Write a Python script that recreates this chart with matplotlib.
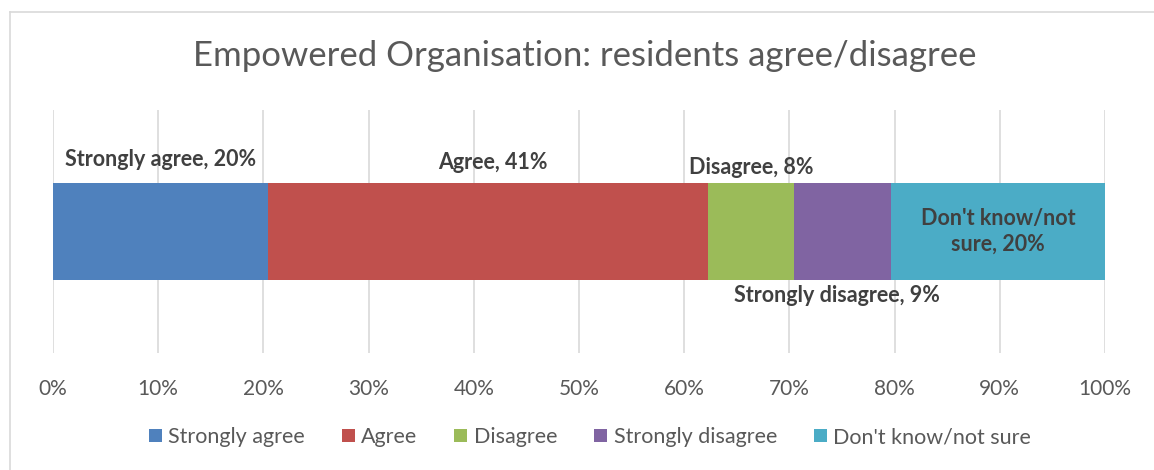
import matplotlib
matplotlib.use("Agg")
import matplotlib.pyplot as plt
from matplotlib.lines import Line2D
import math

plt.rcParams['font.family'] = ['Lato', 'DejaVu Sans']

# Survey responses (percent of residents)
categories = ["Strongly agree", "Agree", "Disagree", "Strongly disagree", "Don't know/not sure"]
values = [20.4, 41.9, 8.1, 9.3, 20.3]
colors = ["#4F81BD", "#C0504D", "#9BBB59", "#8064A2", "#4BACC6"]
tick_values = list(range(0, 101, 10))
tick_labels = [f"{t}%" for t in tick_values]
title = "Empowered Organisation: residents agree/disagree"

W, H = 1154, 470
fig = plt.figure(figsize=(W / 100, H / 100), dpi=100)
fig.patch.set_facecolor("white")

# axes placement in pixels
left, right, top, bottom = 53, 1105, 110, 353
ax = fig.add_axes([left / W, 1 - bottom / H, (right - left) / W, (bottom - top) / H])

bar_h = 0.403
starts = []
acc = 0.0
for v in values:
    starts.append(acc)
    acc += v

for cat, v, s, c in zip(categories, values, starts, colors):
    ax.barh(0, v, left=s, height=bar_h, color=c, label=cat, zorder=3)

ax.set_xlim(0, 100)
ax.set_ylim(-0.5, 0.5)
ax.set_xticks(tick_values)
ax.set_xticklabels(tick_labels)
ax.set_yticks([])
ax.tick_params(axis="x", length=0, pad=19, labelsize=15, labelcolor="#595959")
for sp in ax.spines.values():
    sp.set_visible(False)
ax.grid(axis="x", color="#d9d9d9", linewidth=1.2, zorder=0)
ax.set_axisbelow(True)

# data labels
lab_kw = dict(fontsize=15.5, fontweight="bold", color="#404040", ha="center", va="center")
def label(i):
    return f"{categories[i]}, {math.floor(values[i])}%"

mid = [s + v / 2 for s, v in zip(starts, values)]
top_y = bar_h / 2
ax.annotate(label(0), (mid[0], top_y), xytext=(0, 23), textcoords="offset pixels", **lab_kw)
ax.annotate(label(1), (mid[1], top_y), xytext=(5, 20), textcoords="offset pixels", **lab_kw)
ax.annotate(label(2), (mid[2], top_y), xytext=(0, 15), textcoords="offset pixels", **lab_kw)
ax.annotate(label(3), (mid[3], -top_y), xytext=(-6, -15), textcoords="offset pixels", **lab_kw)
ax.text(mid[4], 0, "Don't know/not\nsure, " + f"{math.floor(values[4])}%",
        linespacing=1.25, **lab_kw)

fig.text(585 / W, 1 - 56 / H, title, fontsize=25, color="#595959", ha="center", va="center")

fig.legend(loc="center", bbox_to_anchor=(590 / W, 1 - 437 / H), ncol=5, frameon=False,
           fontsize=15.5, labelcolor="#595959", handlelength=0.6, handleheight=0.6,
           handletextpad=0.3, columnspacing=1.72)

# chart border
fig.add_artist(Line2D([10 / W, 10 / W], [0, 1 - 11.5 / H], color="#d9d9d9", linewidth=1.2,
                      transform=fig.transFigure))
fig.add_artist(Line2D([10 / W, 1], [1 - 11.5 / H, 1 - 11.5 / H], color="#d9d9d9", linewidth=1.2,
                      transform=fig.transFigure))

fig.savefig("out.png", dpi=100)
